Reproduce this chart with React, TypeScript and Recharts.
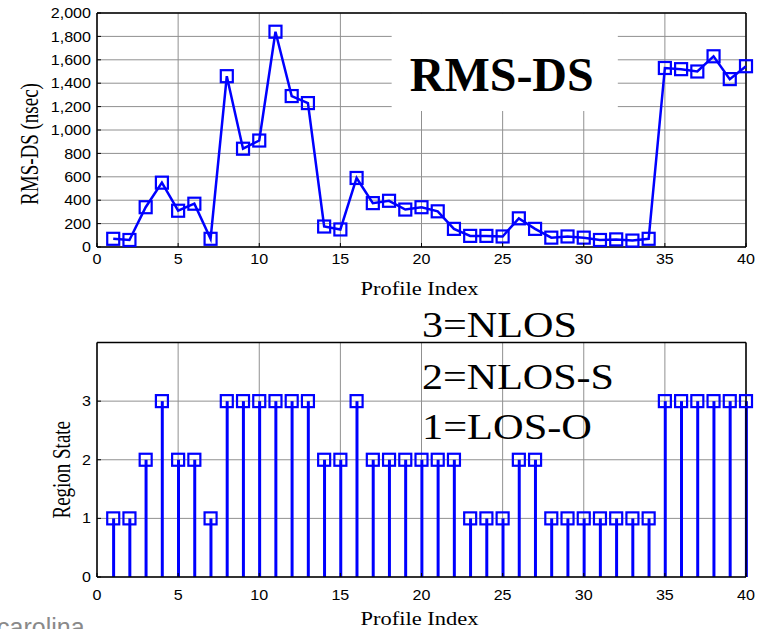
import React from 'react';
import {
  LineChart,
  ComposedChart,
  Line,
  Bar,
  XAxis,
  YAxis,
  CartesianGrid,
  ReferenceLine,
  ReferenceArea,
} from 'recharts';

// profile index 1..40
const profileIndex = [
  1, 2, 3, 4, 5, 6, 7, 8, 9, 10, 11, 12, 13, 14, 15, 16, 17, 18, 19, 20,
  21, 22, 23, 24, 25, 26, 27, 28, 29, 30, 31, 32, 33, 34, 35, 36, 37, 38, 39, 40,
];

// RMS delay spread (nsec)
const rmsDs = [
  70, 60, 340, 550, 310, 370, 70, 1460, 840, 910,
  1840, 1290, 1230, 175, 150, 590, 375, 395, 320, 340,
  305, 155, 95, 95, 90, 245, 155, 80, 90, 80,
  60, 65, 55, 70, 1530, 1520, 1500, 1630, 1435, 1545,
];

// 3=NLOS, 2=NLOS-S, 1=LOS-O
const regionState = [
  1, 1, 2, 3, 2, 2, 1, 3, 3, 3,
  3, 3, 3, 2, 2, 3, 2, 2, 2, 2,
  2, 2, 1, 1, 1, 2, 2, 1, 1, 1,
  1, 1, 1, 1, 3, 3, 3, 3, 3, 3,
];

const xTicks = [0, 5, 10, 15, 20, 25, 30, 35, 40];
const rmsTicks = [0, 200, 400, 600, 800, 1000, 1200, 1400, 1600, 1800, 2000];
const stateTicks = [0, 1, 2, 3];
const stateLegend = ['3=NLOS', '2=NLOS-S', '1=LOS-O'];

const rmsData = profileIndex.map((p, i) => ({ p, rms: rmsDs[i] }));
const stateData = profileIndex.map((p, i) => ({ p, state: regionState[i] }));

const BLUE = '#0000ff';
const GRID = '#909090';
const SANS = '"Liberation Sans", Arial, sans-serif';
const SERIF = '"Liberation Serif", "Times New Roman", serif';

const SquareDot = (props: any) => {
  const { cx, cy, index } = props;
  if (cx == null || cy == null) return null;
  return (
    <rect
      key={`sq-${index}`}
      x={cx - 6}
      y={cy - 6}
      width={12}
      height={12}
      fill="none"
      stroke={BLUE}
      strokeWidth={2.2}
    />
  );
};

// tick labels, with a short inward tick mark like the original
const makeXTick = (dy: number) => (props: any) => {
  const { x, y, payload } = props;
  return (
    <g>
      <line x1={x} y1={y} x2={x} y2={y - 4} stroke="#000" strokeWidth={1} />
      <g transform={`translate(${x},${y + dy}) scale(1.15,1)`}>
        <text textAnchor="middle" dominantBaseline="central" fontFamily={SANS} fontSize={14} fill="#000">
          {payload.value}
        </text>
      </g>
    </g>
  );
};

const makeYTick = (fmt: (v: number) => string) => (props: any) => {
  const { x, y, payload } = props;
  return (
    <g>
      <line x1={x} y1={y} x2={x + 4} y2={y} stroke="#000" strokeWidth={1} />
      <g transform={`translate(${x - 6},${y}) scale(1.15,1)`}>
        <text textAnchor="end" dominantBaseline="central" fontFamily={SANS} fontSize={14} fill="#000">
          {fmt(payload.value)}
        </text>
      </g>
    </g>
  );
};

const yTitle = (text: string, cx: number, dy: number) => (props: any) => {
  const { x, y, height } = props.viewBox;
  return (
    <text
      transform={`translate(${x + cx},${y + height / 2 + dy}) rotate(-90) scale(1,1.3)`}
      textAnchor="middle"
      dominantBaseline="central"
      fontFamily={SERIF}
      fontSize={19}
      fill="#000"
    >
      {text}
    </text>
  );
};

const xTitle = (dy: number) => (props: any) => {
  const { x, y, width } = props.viewBox;
  return (
    <text
      transform={`translate(${x + width / 2 - 2},${y + dy}) scale(1.25,1)`}
      textAnchor="middle"
      dominantBaseline="central"
      fontFamily={SERIF}
      fontSize={18}
      fill="#000"
    >
      Profile Index
    </text>
  );
};

const App: React.FC = () => {
  return (
    <div
      style={{
        position: 'absolute',
        left: 0,
        top: 0,
        width: 759,
        height: 629,
        overflow: 'hidden',
        background: '#fff',
      }}
    >
      <div style={{ position: 'absolute', left: 0, top: 0 }}>
        <LineChart
          width={759}
          height={300}
          data={rmsData}
          margin={{ top: 13, right: 13, bottom: 4, left: 0 }}
        >
          <CartesianGrid stroke={GRID} strokeWidth={1} />
          <XAxis
            dataKey="p"
            type="number"
            domain={[0, 40]}
            ticks={xTicks}
            interval={0}
            height={49}
            tickSize={0}
            tickMargin={0}
            tickLine={false}
            axisLine={{ stroke: '#000', strokeWidth: 1.5 }}
            tick={makeXTick(11.5)}
            label={{ content: xTitle(42) }}
          />
          <YAxis
            type="number"
            domain={[0, 2000]}
            ticks={rmsTicks}
            interval={0}
            width={97}
            tickSize={0}
            tickMargin={0}
            tickLine={false}
            axisLine={{ stroke: '#000', strokeWidth: 1.5 }}
            tick={makeYTick((v) => v.toLocaleString('en-US'))}
            label={{ content: yTitle('RMS-DS (nsec)', 30, 14) }}
          />
          <ReferenceArea
            x1={18.16}
            x2={32.1}
            y1={1162}
            y2={1995}
            fill="#fff"
            fillOpacity={1}
            stroke="none"
            label={{
              content: (p: any) => {
                const { x, y, width } = p.viewBox;
                return (
                  <text
                    x={x + width / 2 - 3}
                    y={y + 61}
                    textAnchor="middle"
                    dominantBaseline="central"
                    fontFamily={SERIF}
                    fontWeight="bold"
                    fontSize={48}
                    fill="#000"
                  >
                    RMS-DS
                  </text>
                );
              },
            }}
          />
          <ReferenceLine y={2000} stroke="#000" strokeWidth={1.5} />
          <ReferenceLine x={40} stroke="#000" strokeWidth={1.5} />
          <Line
            dataKey="rms"
            stroke={BLUE}
            strokeWidth={2.5}
            dot={SquareDot}
            activeDot={false}
            isAnimationActive={false}
          />
        </LineChart>
      </div>

      <div style={{ position: 'absolute', left: 0, top: 300 }}>
        <ComposedChart
          width={759}
          height={329}
          data={stateData}
          margin={{ top: 42.5, right: 13, bottom: 4, left: 0 }}
        >
          <CartesianGrid stroke={GRID} strokeWidth={1} />
          <XAxis
            dataKey="p"
            type="number"
            domain={[0, 40]}
            ticks={xTicks}
            interval={0}
            height={48}
            tickSize={0}
            tickMargin={0}
            tickLine={false}
            axisLine={{ stroke: '#000', strokeWidth: 1.5 }}
            tick={makeXTick(18)}
            label={{ content: xTitle(42) }}
          />
          <YAxis
            type="number"
            domain={[0, 4]}
            ticks={stateTicks}
            interval={0}
            width={97}
            tickSize={0}
            tickMargin={0}
            tickLine={false}
            axisLine={{ stroke: '#000', strokeWidth: 1.5 }}
            tick={makeYTick((v) => String(v))}
            label={{ content: yTitle('Region State', 62, 10) }}
          />
          <ReferenceLine y={4} stroke="#000" strokeWidth={1.5} />
          <ReferenceLine x={40} stroke="#000" strokeWidth={1.5} />
          <Bar dataKey="state" barSize={3} fill={BLUE} isAnimationActive={false} />
          <Line
            dataKey="state"
            stroke="none"
            dot={SquareDot}
            activeDot={false}
            isAnimationActive={false}
          />
        </ComposedChart>
      </div>

      <svg
        width={759}
        height={629}
        style={{ position: 'absolute', left: 0, top: 0, pointerEvents: 'none' }}
      >
        {stateLegend.map((t, i) => (
          <text
            key={t}
            x={422}
            y={[337, 389, 439][i]}
            textLength={[155, 192, 170][i]}
            lengthAdjust="spacingAndGlyphs"
            fontFamily={SERIF}
            fontSize={35}
            fill="#000"
          >
            {t}
          </text>
        ))}
        <text x={-3} y={636} fontFamily={SANS} fontSize={25} fill="#8a8a8a">
          carolina
        </text>
      </svg>
    </div>
  );
};

export default App;
